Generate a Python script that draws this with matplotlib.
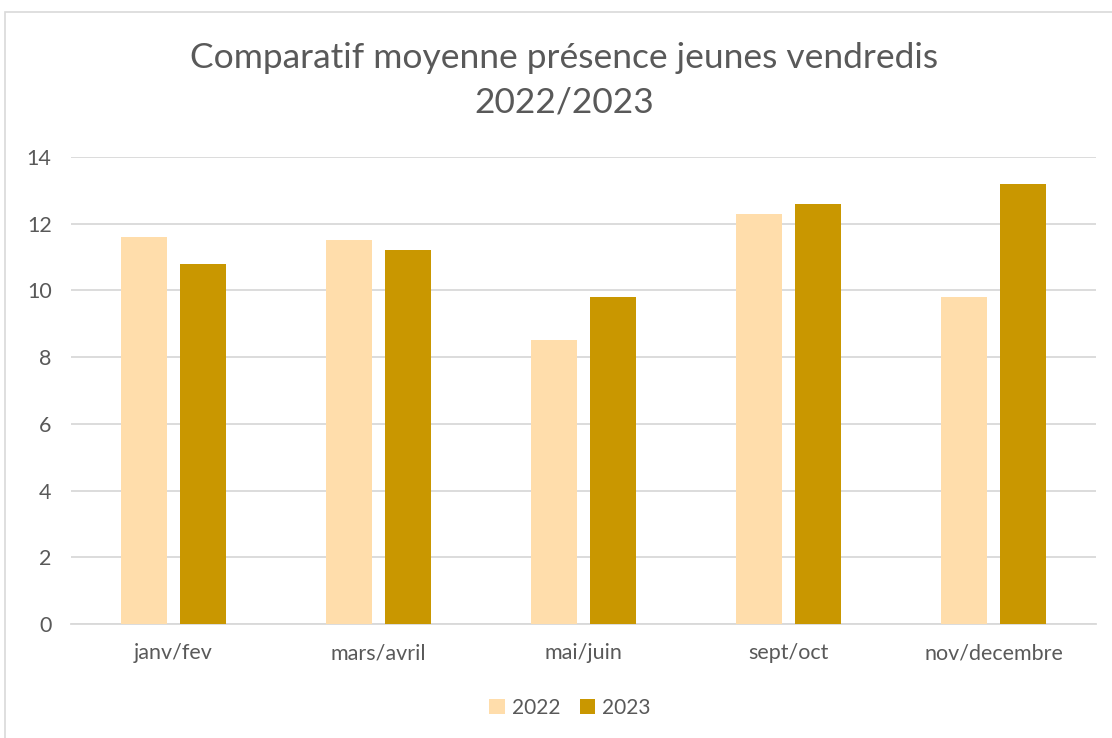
import matplotlib.pyplot as plt
import matplotlib.patches as patches
import numpy as np

plt.rcParams['font.family'] = ['Lato', 'DejaVu Sans']

categories = ['janv/fev', 'mars/avril', 'mai/juin', 'sept/oct', 'nov/decembre']
values_2022 = [11.6, 11.5, 8.5, 12.3, 9.8]
values_2023 = [10.8, 11.2, 9.8, 12.6, 13.2]

col_2022 = '#FFDDAB'
col_2023 = '#C99700'
text_col = '#595959'
grid_col = '#D9D9D9'

fig = plt.figure(figsize=(11.12, 7.38), dpi=100)
ax = fig.add_axes([71 / 1112, 1 - 624 / 738, 1025 / 1112, (624 - 157) / 738])

# chart frame
fig.patches.append(patches.Rectangle((5 / 1112, -0.05), 1.2, 1 - 12 / 738 + 0.05,
                                     transform=fig.transFigure, fill=False,
                                     edgecolor='#D9D9D9', linewidth=1.2))

x = np.arange(len(categories))
w = 0.224
ax.bar(x - 0.144, values_2022, w, color=col_2022, label='2022', zorder=3)
ax.bar(x + 0.144, values_2023, w, color=col_2023, label='2023', zorder=3)

ax.set_xlim(-0.5, len(categories) - 0.5)
ax.set_ylim(0, 14)
ax.set_yticks(range(0, 15, 2))
ax.set_xticks(x)
ax.set_xticklabels(categories)
ax.yaxis.grid(True, color=grid_col, linewidth=1.3, zorder=0)
ax.tick_params(axis='both', length=0, labelsize=15.5, colors=text_col)
ax.tick_params(axis='x', pad=14)
ax.tick_params(axis='y', pad=14)
for s in ['top', 'right', 'left']:
    ax.spines[s].set_visible(False)
ax.spines['bottom'].set_color(grid_col)
ax.spines['bottom'].set_linewidth(1.3)

fig.text(0.507, 1 - 80 / 738, 'Comparatif moyenne présence jeunes vendredis\n2022/2023',
         ha='center', va='center', fontsize=25.5, color=text_col, linespacing=1.5)

ax.legend(loc='center', bbox_to_anchor=(0.487, -0.18), ncol=2, frameon=False,
          fontsize=15, labelcolor=text_col, handlelength=0.75, handleheight=0.75,
          handletextpad=0.35, columnspacing=0.9)

fig.savefig('out.png', dpi=100)
